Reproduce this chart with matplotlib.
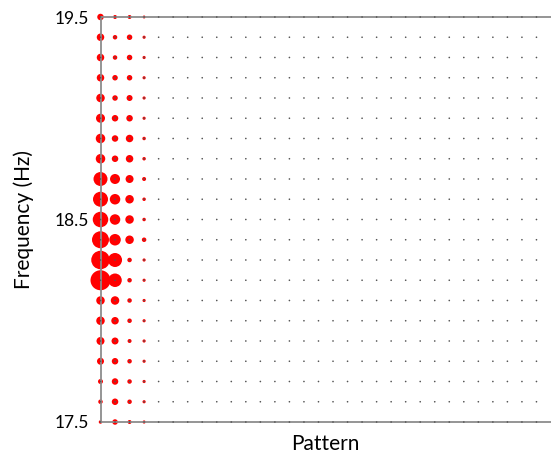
import numpy as np
import matplotlib
matplotlib.use("Agg")
import matplotlib.pyplot as plt

plt.rcParams['font.family'] = ['Lato', 'DejaVu Sans']

# frequency rows (Hz), low to high
freqs = [17.5, 17.6, 17.7, 17.8, 17.9, 18.0, 18.1, 18.2, 18.3, 18.4, 18.5,
         18.6, 18.7, 18.8, 18.9, 19.0, 19.1, 19.2, 19.3, 19.4, 19.5]
n_patterns = 31

# magnitude per frequency for the first patterns (others are ~0)
pattern0 = [3.5, 4.5, 5, 7, 8, 8.5, 8.5, 20, 18.5, 17, 15.5, 15, 14, 9.5, 9.5, 9, 8.5, 7.5, 7.5, 7.5, 6.5]
pattern1 = [5.5, 6.5, 6.5, 6.5, 7, 7.5, 8.5, 13.5, 14, 11.5, 10.5, 10.5, 10, 6.5, 6.5, 6.5, 5.5, 5.5, 4.5, 4.5, 4]
pattern2 = [4, 4.5, 4.5, 4.5, 4, 4.5, 4.5, 4.5, 4.5, 8.5, 8.5, 8.5, 8, 7.5, 7.5, 6.5, 6, 5.5, 5.5, 5.5, 4]
pattern3 = [3.2, 3.2, 3.2, 3.2, 3.2, 3.2, 3.2, 3.2, 3.2, 4.5, 3.5, 3.5, 4, 3.5, 3.5, 3.2, 3.2, 3.2, 3.2, 3.2, 3]
patterns = [pattern0, pattern1, pattern2, pattern3]

fig = plt.figure(figsize=(5.51, 4.57), dpi=100)
ax = fig.add_axes([100.5 / 551, 35 / 457, 1 - 100.5 / 551, 405 / 457])

px = 72 / fig.dpi
for j, mags in enumerate(patterns):
    sizes = (np.array(mags) * px) ** 2
    ax.scatter(np.full(len(freqs), j), freqs, s=sizes, color='#ff0000',
               edgecolors='none', clip_on=False, zorder=2)

gx, gy = np.meshgrid(np.arange(n_patterns), freqs)
ax.scatter(gx.ravel(), gy.ravel(), s=1.4, color='#555555', edgecolors='none',
           clip_on=False, zorder=3)

ax.set_xlim(0, 31)
ax.set_ylim(17.5, 19.5)
ax.set_xticks([])
ax.set_yticks([17.5, 18.5, 19.5])
ax.set_yticklabels(['17.5', '18.5', '19.5'], fontsize=12.5)
ax.tick_params(axis='y', length=0, pad=8)

for side in ['left', 'top', 'bottom']:
    ax.spines[side].set_color('#8c8c8c')
    ax.spines[side].set_linewidth(1.3)
ax.spines['right'].set_visible(False)

ax.set_xlabel('Pattern', fontsize=15, labelpad=9)
ax.set_ylabel('Frequency (Hz)', fontsize=15, labelpad=15)

fig.savefig('out.png', dpi=100)
